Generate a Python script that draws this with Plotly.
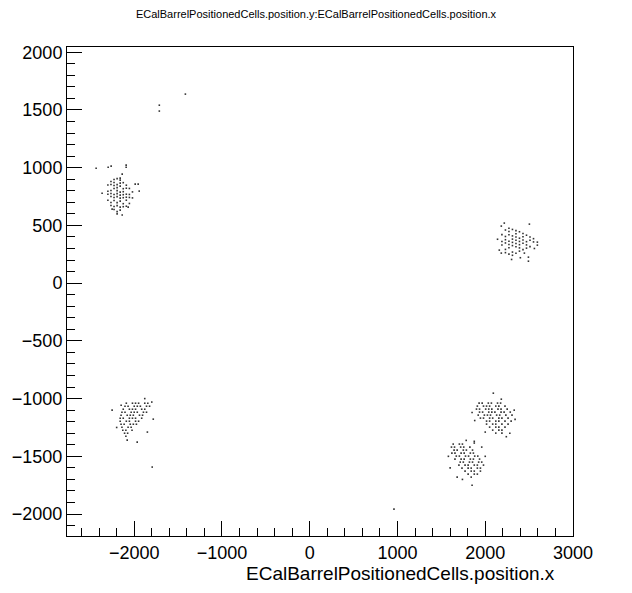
import plotly.graph_objects as go

TITLE = "ECalBarrelPositionedCells.position.y:ECalBarrelPositionedCells.position.x"
XTITLE = "ECalBarrelPositionedCells.position.x"
X_RANGE = [-2766, 3000]
Y_RANGE = [-2190, 2045]

# upper-left cluster: column x -> list of y
ul_cols = {
    -2300: [850, 796, 770, 718],
    -2265: [880, 854, 802, 776, 750, 698, 672],
    -2230: [898, 872, 846, 820, 768, 742, 716, 664, 638],
    -2195: [905, 853, 827, 801, 775, 749, 697, 671, 619],
    -2160: [892, 866, 840, 788, 762, 736, 710, 658, 632],
    -2125: [870, 818, 792, 766, 740, 688, 662],
    -2090: [848, 822, 770, 744, 718, 666],
    -2055: [820, 768, 742, 690],
    -2020: [790, 738],
}
ul_stray_x = [-2434, -2297, -2263, -2092, -2092, -2137, -2160, -1989, -1955, -2366, -2252, -2195, -2137, -2069, -1943]
ul_stray_y = [995, 1004, 1013, 1022, 1004, 944, 909, 857, 857, 779, 641, 600, 590, 658, 797]

# right cluster: column x -> list of y
r_cols = {
    2190: [420, 360, 330],
    2230: [460, 404, 376, 348, 292, 264],
    2270: [475, 447, 419, 363, 335, 307, 251],
    2310: [465, 409, 381, 353, 325, 269, 241],
    2350: [455, 427, 399, 371, 343, 315, 259],
    2390: [445, 389, 361, 333, 305, 277],
    2430: [430, 402, 374, 346, 290],
    2470: [415, 359, 331, 303],
    2510: [400, 372, 316],
    2550: [385, 357],
}
r_stray_x = [2183, 2503, 2594, 2594, 2446, 2492, 2492, 2160, 2183, 2217, 2140, 2560, 2400, 2300]
r_stray_y = [494, 511, 355, 329, 260, 225, 190, 286, 260, 520, 380, 300, 220, 205]

# lower-left cluster: row y -> list of x
ll_rows = {
    -1040: [-2090, -2020, -1985, -1950, -1880, -1845],
    -1066: [-2105, -2070, -2000, -1965, -1930, -1860, -1825],
    -1092: [-2125, -2055, -2020, -1985, -1915, -1880],
    -1118: [-2140, -2105, -2035, -2000, -1965, -1895, -1860],
    -1144: [-2150, -2080, -2045, -2010, -1940, -1905],
    -1170: [-2160, -2125, -2055, -2020, -1985, -1915],
    -1196: [-2160, -2090, -2055, -1985, -1950],
    -1222: [-2150, -2115, -2045, -2010, -1975],
    -1248: [-2140, -2070, -2035],
    -1274: [-2130, -2095, -2025],
    -1300: [-2110, -2075],
    -1326: [-2095],
}
ll_stray_x = [-2252, -2149, -1966, -1783, -2080, -1800, -1880, -2200, -1850, -1795]
ll_stray_y = [-1100, -1057, -1377, -1178, -1360, -1030, -1000, -1250, -1290, -1593]

# lower-right upper cluster: row y -> list of x
lr1_rows = {
    -1039: [1930, 1965, 2035, 2070, 2140, 2175],
    -1065: [1910, 1980, 2015, 2050, 2120, 2155, 2225],
    -1091: [1900, 1935, 2005, 2040, 2075, 2145, 2180, 2250],
    -1117: [1935, 1970, 2040, 2075, 2110, 2180, 2215, 2285],
    -1143: [1920, 1990, 2025, 2060, 2130, 2165, 2235, 2305],
    -1169: [1945, 1980, 2050, 2085, 2155, 2190, 2260],
    -1195: [2015, 2050, 2120, 2155, 2225, 2295],
    -1221: [2015, 2085, 2120, 2190, 2260],
    -1247: [2050, 2120, 2155, 2225],
    -1273: [2085, 2155, 2190],
    -1299: [2120, 2190],
}
lr1_stray_x = [2092, 2183, 1850, 2330, 2340, 2280, 2240, 1880, 2000]
lr1_stray_y = [-953, -1005, -1120, -1100, -1180, -1300, -1330, -1190, -1290]

# lower-right lower cluster: row y -> list of x
lr2_rows = {
    -1394: [1635, 1705, 1740],
    -1420: [1615, 1650, 1720, 1755, 1825],
    -1446: [1645, 1680, 1750, 1785, 1855],
    -1472: [1620, 1655, 1725, 1760, 1830, 1865],
    -1498: [1670, 1705, 1775, 1810, 1880, 1915],
    -1524: [1655, 1725, 1760, 1830, 1865, 1935],
    -1550: [1715, 1750, 1820, 1855, 1925, 1960],
    -1576: [1700, 1770, 1805, 1875, 1910, 1980],
    -1602: [1735, 1805, 1840, 1910, 1945],
    -1628: [1770, 1840, 1875, 1945],
    -1654: [1805, 1875, 1910],
    -1680: [1840],
}
lr2_stray_x = [1783, 1875, 1875, 1680, 1850, 1580, 1600, 2000, 1960, 1740]
lr2_stray_y = [-1362, -1370, -1385, -1680, -1750, -1500, -1600, -1500, -1420, -1700]

# isolated points
iso_x = [-1714, -1714, -1417, 960]
iso_y = [1541, 1490, 1637, -1957]

xs, ys = [], []
for cols in (ul_cols, r_cols):
    for cx, yl in cols.items():
        for yv in yl:
            xs.append(cx); ys.append(yv)
for rows in (ll_rows, lr1_rows, lr2_rows):
    for ry, xl in rows.items():
        for xv in xl:
            xs.append(xv); ys.append(ry)
for sx, sy in ((ul_stray_x, ul_stray_y), (r_stray_x, r_stray_y), (ll_stray_x, ll_stray_y),
               (lr1_stray_x, lr1_stray_y), (lr2_stray_x, lr2_stray_y), (iso_x, iso_y)):
    xs += sx; ys += sy

fig = go.Figure(go.Scatter(
    x=xs, y=ys, mode="markers",
    marker=dict(symbol="square", size=1.6, color="#333333", line=dict(width=0)),
    hoverinfo="skip",
))

FONT = "Liberation Sans, Arial, Helvetica, sans-serif"
axis_common = dict(
    showgrid=False, zeroline=False, showline=True, linecolor="black", linewidth=1,
    mirror=True, ticks="inside", tickcolor="black", tickwidth=1, ticklen=15,
    tickfont=dict(family=FONT, size=18, color="black"),
)
fig.update_xaxes(range=X_RANGE, tick0=0, dtick=1000,
                 minor=dict(ticks="inside", dtick=200, tick0=0, ticklen=8, tickcolor="black"),
                 **axis_common)
fig.update_yaxes(range=Y_RANGE, tick0=0, dtick=500,
                 minor=dict(ticks="inside", dtick=100, tick0=0, ticklen=8, tickcolor="black"),
                 **axis_common)

fig.update_layout(
    width=632, height=593,
    margin=dict(l=67, r=59, t=47, b=57),
    paper_bgcolor="white", plot_bgcolor="white",
    showlegend=False,
    title=dict(text=TITLE, x=0.5, xref="container", xanchor="center",
               y=1 - 14 / 593, yref="container", yanchor="middle",
               font=dict(family=FONT, size=11, color="black")),
    annotations=[dict(text=XTITLE, xref="paper", yref="paper",
                      x=(557 - 67) / 506, y=-(573 - 536) / 489,
                      xanchor="right", yanchor="middle", showarrow=False,
                      font=dict(family=FONT, size=19, color="black"))],
)

fig.write_html("out.html", config={"displayModeBar": False},
               post_script="document.body.style.margin='0px';")
